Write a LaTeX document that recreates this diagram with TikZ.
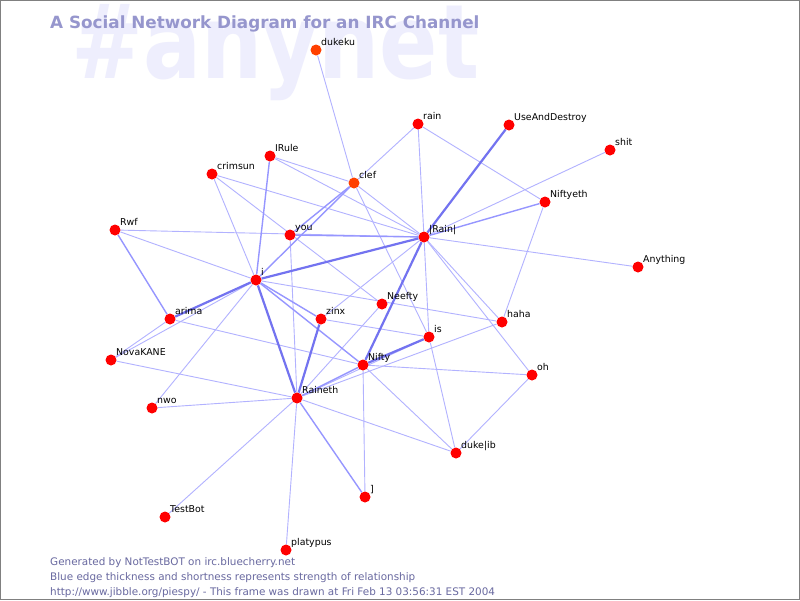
\documentclass[tikz,border=0pt]{standalone}
\usepackage{fontspec}
\setmainfont{DejaVu Sans}
\definecolor{wmark}{RGB}{238,238,253}
\definecolor{titlec}{RGB}{150,150,205}
\definecolor{footc}{RGB}{105,105,160}
\definecolor{thinc}{RGB}{178,178,255}
\definecolor{midc}{RGB}{150,150,255}
\definecolor{thickc}{RGB}{115,115,240}
\definecolor{dotred}{RGB}{255,0,0}
\definecolor{dotorange}{RGB}{255,64,0}
\pgfdeclarelayer{bg}
\pgfdeclarelayer{edges}
\pgfsetlayers{bg,edges,main}
\tikzset{
  dot/.style={circle, fill=dotred, inner sep=0pt, minimum size=11pt},
  odot/.style={circle, fill=dotorange, inner sep=0pt, minimum size=11pt},
  lbl/.style={inner sep=0pt, font=\fontsize{9.4}{11}\selectfont, text=black},
  ethin/.style={draw=thinc, line width=0.9pt},
  emid/.style={draw=midc, line width=1.4pt},
  ethick/.style={draw=thickc, line width=2.2pt},
  foot/.style={inner sep=0pt, anchor=base west, text=footc, font=\fontsize{10.4}{12}\selectfont},
}
\newcommand\person[4]{%
  \node[#4] (#1) at (#2) {};
  \node[lbl, anchor=base west] (#1-l) at ([xshift=5pt,yshift=5pt]#1.center) {#3};}
\begin{document}
\begin{tikzpicture}[x=1pt,y=-1pt]
\useasboundingbox (0,0) rectangle (800,600);
\begin{pgfonlayer}{bg}
\fill[white] (0,0) rectangle (800,600);
\node[inner sep=0pt, anchor=base west, text=wmark, font=\fontsize{86}{86}\selectfont\bfseries] (wm) at (71,78) {\scalebox{1}[1.2]{\#anynet}};
\node[inner sep=0pt, anchor=base west, text=titlec, font=\fontsize{16.8}{18}\selectfont\bfseries] (title) at (50,28) {A Social Network Diagram for an IRC Channel};
\end{pgfonlayer}

\person{dukeku}{316,50}{dukeku}{odot}
\person{rain}{418,124}{rain}{dot}
\person{uad}{509,125}{UseAndDestroy}{dot}
\person{shit}{610,150}{shit}{dot}
\person{irule}{270,156}{IRule}{dot}
\person{crimsun}{212,174}{crimsun}{dot}
\person{clef}{354,183}{clef}{odot}
\person{niftyeth}{545,202}{Niftyeth}{dot}
\person{rwf}{115,230}{Rwf}{dot}
\person{you}{290,235}{you}{dot}
\person{brain}{424,237}{|Rain|}{dot}
\person{anything}{638,267}{Anything}{dot}
\person{i}{256,280}{i}{dot}
\person{neefty}{382,304}{Neefty}{dot}
\person{arima}{170,319}{arima}{dot}
\person{zinx}{321,319}{zinx}{dot}
\person{haha}{502,322}{haha}{dot}
\person{is}{429,337}{is}{dot}
\person{nova}{111,360}{NovaKANE}{dot}
\person{nifty}{363,365}{Nifty}{dot}
\person{oh}{532,375}{oh}{dot}
\person{raineth}{297,398}{Raineth}{dot}
\person{nwo}{152,408}{nwo}{dot}
\person{dukelib}{456,453}{duke|ib}{dot}
\person{br}{365,497}{]}{dot}
\person{testbot}{165,517}{TestBot}{dot}
\person{platypus}{286,550}{platypus}{dot}

\begin{pgfonlayer}{edges}
% thin edges
\foreach \a/\b in {dukeku/clef, rain/clef, rain/brain, rain/niftyeth, brain/is,
  brain/shit, brain/anything, brain/haha, brain/oh, niftyeth/haha,
  irule/clef, irule/brain, crimsun/brain, crimsun/i, crimsun/neefty,
  clef/brain, clef/is, rwf/brain, rwf/i, you/raineth,
  i/haha, i/nwo, nova/i, nova/arima, nova/raineth, arima/nifty,
  zinx/is, raineth/neefty, raineth/haha, raineth/is, raineth/dukelib,
  nwo/raineth, testbot/raineth, platypus/raineth, br/nifty,
  nifty/oh, nifty/dukelib, is/dukelib, oh/dukelib, zinx/brain}
  \draw[ethin] (\a) -- (\b);
% medium edges
\foreach \a/\b in {brain/niftyeth, i/irule, i/clef, you/clef, you/brain,
  rwf/arima, raineth/nifty, i/zinx, i/nifty, br/raineth}
  \draw[emid] (\a) -- (\b);
% thick edges
\foreach \a/\b in {i/brain, brain/uad, i/raineth, zinx/raineth, nifty/brain,
  nifty/is, i/arima}
  \draw[ethick] (\a) -- (\b);
\end{pgfonlayer}

\node[foot] (f1) at (50,565) {Generated by NotTestBOT on irc.bluecherry.net};
\node[foot] (f2) at (50,580) {Blue edge thickness and shortness represents strength of relationship};
\node[foot] (f3) at (50,595) {http://www.jibble.org/piespy/ - This frame was drawn at Fri Feb 13 03:56:31 EST 2004};
\draw[gray, line width=1pt] (0.5,0.5) rectangle (799.5,599.5);
\end{tikzpicture}
\end{document}
